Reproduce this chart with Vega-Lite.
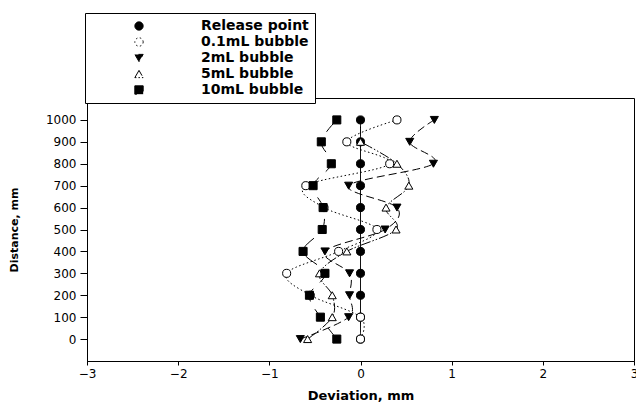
{
  "$schema": "https://vega.github.io/schema/vega-lite/v6.json",
  "autosize": {"type": "none"},
  "width": 547,
  "height": 263,
  "padding": {"left": 87, "top": 98, "right": 2, "bottom": 44},
  "background": "white",
  "config": {
    "view": {"stroke": "black", "strokeWidth": 1},
    "font": "DejaVu Sans",
    "axis": {"grid": false, "domainColor": "black", "tickColor": "black", "labelColor": "black", "titleColor": "black", "labelFont": "DejaVu Sans", "titleFont": "DejaVu Sans", "titleFontWeight": "bold"}
  },
  "data": {
    "values": [
      {"series": "Release point", "dist": 0, "dev": 0},
      {"series": "Release point", "dist": 100, "dev": 0},
      {"series": "Release point", "dist": 200, "dev": 0},
      {"series": "Release point", "dist": 300, "dev": 0},
      {"series": "Release point", "dist": 400, "dev": 0},
      {"series": "Release point", "dist": 500, "dev": 0},
      {"series": "Release point", "dist": 600, "dev": 0},
      {"series": "Release point", "dist": 700, "dev": 0},
      {"series": "Release point", "dist": 800, "dev": 0},
      {"series": "Release point", "dist": 900, "dev": 0},
      {"series": "Release point", "dist": 1000, "dev": 0},
      {"series": "0.1mL bubble", "dist": 0, "dev": 0},
      {"series": "0.1mL bubble", "dist": 100, "dev": 0},
      {"series": "0.1mL bubble", "dist": 200, "dev": -0.55},
      {"series": "0.1mL bubble", "dist": 300, "dev": -0.81},
      {"series": "0.1mL bubble", "dist": 400, "dev": -0.24},
      {"series": "0.1mL bubble", "dist": 500, "dev": 0.18},
      {"series": "0.1mL bubble", "dist": 600, "dev": -0.4},
      {"series": "0.1mL bubble", "dist": 700, "dev": -0.6},
      {"series": "0.1mL bubble", "dist": 800, "dev": 0.32},
      {"series": "0.1mL bubble", "dist": 900, "dev": -0.15},
      {"series": "0.1mL bubble", "dist": 1000, "dev": 0.4},
      {"series": "2mL bubble", "dist": 0, "dev": -0.66},
      {"series": "2mL bubble", "dist": 100, "dev": -0.13},
      {"series": "2mL bubble", "dist": 200, "dev": -0.12},
      {"series": "2mL bubble", "dist": 300, "dev": -0.12},
      {"series": "2mL bubble", "dist": 400, "dev": -0.39},
      {"series": "2mL bubble", "dist": 500, "dev": 0.27},
      {"series": "2mL bubble", "dist": 600, "dev": 0.4},
      {"series": "2mL bubble", "dist": 700, "dev": -0.13},
      {"series": "2mL bubble", "dist": 800, "dev": 0.8},
      {"series": "2mL bubble", "dist": 900, "dev": 0.54},
      {"series": "2mL bubble", "dist": 1000, "dev": 0.81},
      {"series": "5mL bubble", "dist": 0, "dev": -0.58},
      {"series": "5mL bubble", "dist": 100, "dev": -0.31},
      {"series": "5mL bubble", "dist": 200, "dev": -0.31},
      {"series": "5mL bubble", "dist": 300, "dev": -0.45},
      {"series": "5mL bubble", "dist": 400, "dev": -0.15},
      {"series": "5mL bubble", "dist": 500, "dev": 0.39},
      {"series": "5mL bubble", "dist": 600, "dev": 0.28},
      {"series": "5mL bubble", "dist": 700, "dev": 0.53},
      {"series": "5mL bubble", "dist": 800, "dev": 0.4},
      {"series": "5mL bubble", "dist": 900, "dev": 0.0},
      {"series": "10mL bubble", "dist": 0, "dev": -0.26},
      {"series": "10mL bubble", "dist": 100, "dev": -0.44},
      {"series": "10mL bubble", "dist": 200, "dev": -0.56},
      {"series": "10mL bubble", "dist": 300, "dev": -0.39},
      {"series": "10mL bubble", "dist": 400, "dev": -0.63},
      {"series": "10mL bubble", "dist": 500, "dev": -0.42},
      {"series": "10mL bubble", "dist": 600, "dev": -0.41},
      {"series": "10mL bubble", "dist": 700, "dev": -0.52},
      {"series": "10mL bubble", "dist": 800, "dev": -0.32},
      {"series": "10mL bubble", "dist": 900, "dev": -0.43},
      {"series": "10mL bubble", "dist": 1000, "dev": -0.26}
    ]
  },
  "encoding": {
    "x": {
      "field": "dev", "type": "quantitative",
      "scale": {"domain": [-3, 3], "nice": false, "zero": false},
      "axis": {"values": [-3, -2, -1, 0, 1, 2, 3], "tickSize": 4, "labelFontSize": 12, "labelPadding": 3, "labelFlush": false, "title": "Deviation, mm", "titleFontSize": 13, "titlePadding": 10}
    },
    "y": {
      "field": "dist", "type": "quantitative",
      "scale": {"domain": [-100, 1100], "nice": false, "zero": false},
      "axis": {"values": [0, 100, 200, 300, 400, 500, 600, 700, 800, 900, 1000], "format": "d", "tickSize": 7, "labelFontSize": 12, "labelPadding": 4, "labelFlush": false, "title": "Distance, mm", "titleFontSize": 11, "titlePadding": 26}
    }
  },
  "layer": [
    {
      "mark": {"type": "line", "interpolate": "cardinal", "tension": 0, "color": "black", "strokeWidth": 1},
      "encoding": {
        "order": {"field": "dist", "type": "quantitative"},
        "strokeDash": {
          "field": "series", "type": "nominal",
          "scale": {
            "domain": ["Release point", "0.1mL bubble", "2mL bubble", "5mL bubble", "10mL bubble"],
            "range": [[1, 0], [1.5, 2.5], [8, 4], [10, 2, 1.5, 2, 1.5, 2], [14, 9]]
          },
          "legend": {
            "orient": "none", "legendX": -2, "legendY": -85, "title": null,
            "padding": 6, "strokeColor": "black", "fillColor": "white", "cornerRadius": 0,
            "symbolSize": 70, "symbolOffset": 41, "labelOffset": 55, "symbolStrokeWidth": 1,
            "labelFont": "DejaVu Sans", "labelFontWeight": "bold", "labelFontSize": 14, "labelColor": "black", "labelLimit": 0,
            "rowPadding": 2
          }
        },
        "detail": {"field": "series", "type": "nominal"}
      }
    },
    {
      "mark": {"type": "point", "stroke": "black", "strokeWidth": 1, "opacity": 1, "size": 65},
      "encoding": {
        "shape": {
          "field": "series", "type": "nominal",
          "scale": {"domain": ["Release point", "0.1mL bubble", "2mL bubble", "5mL bubble", "10mL bubble"], "range": ["circle", "circle", "triangle-down", "triangle-up", "square"]},
          "legend": null
        },
        "fill": {
          "field": "series", "type": "nominal",
          "scale": {"domain": ["Release point", "0.1mL bubble", "2mL bubble", "5mL bubble", "10mL bubble"], "range": ["black", "white", "black", "white", "black"]},
          "legend": null
        }
      }
    }
  ]
}
